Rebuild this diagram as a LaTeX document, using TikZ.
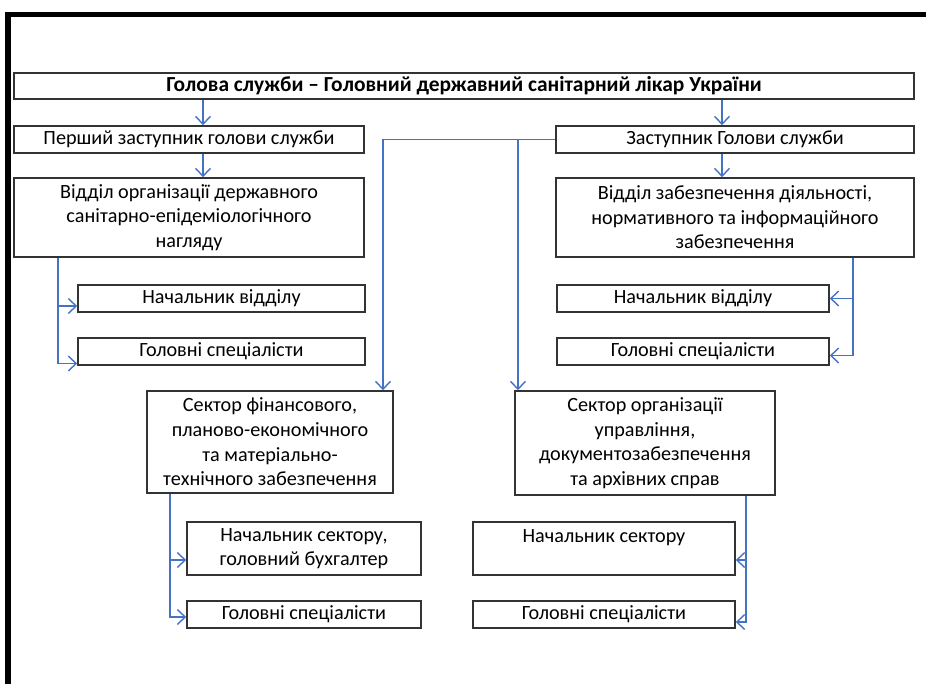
\documentclass[tikz,border=0pt]{standalone}
\usepackage{fontspec}
\setmainfont{Carlito}
\usetikzlibrary{arrows.meta,calc}
\definecolor{linkblue}{RGB}{68,114,196}

\begin{document}
\begin{tikzpicture}[
    x=0.02cm, y=-0.02cm,
    box/.style={draw=black!80,line width=0.9pt,inner sep=0,align=center,
      font=\fontsize{11.5}{14}\selectfont},
    wh/.style 2 args={minimum width=#1*0.02cm,minimum height=#2*0.02cm},
    link/.style={draw=linkblue,line width=0.8pt},
    arr/.style={link,-{Straight Barb[length=4.5pt,width=8.5pt]}}
    ]
    \useasboundingbox (0,0) rectangle (926,684);

    % frame
    \draw[line width=0.1cm] (5,14.5) -- (926,14.5);
    \draw[line width=0.12cm] (8,12) -- (8,684);

    % head of service
    \node[box,wh={900}{26},font=\fontsize{12.2}{14}\selectfont\bfseries] (T) at (464,86) {Голова служби – Головний державний санітарний лікар України};

    % deputies
    \node[box,wh={350}{27}] (D1) at (189,139.5) {Перший заступник голови служби};
    \node[box,wh={358}{27}] (D2) at (735,139.5) {Заступник Голови служби};

    % departments
    \node[box,wh={350}{79}] (O1) at (189,217.5) {Відділ організації державного\\санітарно-епідеміологічного\\нагляду};
    \node[box,wh={358}{79}] (O2) at (735,217.5) {Відділ забезпечення діяльності,\\нормативного та інформаційного\\забезпечення};

    % department staff
    \node[box,wh={287}{27}] (H1) at (221.5,298.5) {Начальник відділу};
    \node[box,wh={287}{27}] (S1) at (221.5,351.5) {Головні спеціалісти};
    \node[box,wh={272}{27}] (H2) at (693,298.5) {Начальник відділу};
    \node[box,wh={272}{27}] (S2) at (693,351.5) {Головні спеціалісти};

    % sectors
    \node[box,wh={246}{102}] (F) at (270,442) {Сектор фінансового,\\планово-економічного\\та матеріально-\\технічного забезпечення};
    \node[box,wh={260}{104}] (G) at (645,443) {Сектор організації\\управління,\\документозабезпечення\\та архівних справ};

    % sector staff
    \node[box,wh={234}{53}] (H3) at (304,548.5) {Начальник сектору,\\головний бухгалтер};
    \node[box,wh={234}{27}] (S3) at (304,614.5) {Головні спеціалісти};
    \node[box,wh={262}{53}] (H4) at (604,548.5) {Начальник сектору\\~};
    \node[box,wh={262}{27}] (S4) at (604,614.5) {Головні спеціалісти};

    % connector columns
    \coordinate (xl) at (203,0);
    \coordinate (xr) at (722,0);
    \coordinate (xf) at (383,0);
    \coordinate (xg) at (518,0);
    \coordinate (xa) at (58,0);
    \coordinate (xb) at (853,0);
    \coordinate (xc) at (170,0);
    \coordinate (xd) at (746,0);

    % vertical chain
    \draw[arr] (T.south -| xl) -- (D1.north -| xl);
    \draw[arr] (D1.south -| xl) -- (O1.north -| xl);
    \draw[arr] (T.south -| xr) -- (D2.north -| xr);
    \draw[arr] (D2.south -| xr) -- (O2.north -| xr);

    % deputy to sectors
    \draw[arr] (D2.west) -| (F.north -| xf);
    \draw[arr] (D2.west -| xg) -- (G.north -| xg);

    % staff links
    \draw[arr] (O1.south -| xa) |- ($(H1.west)+(0,7.5)$);
    \draw[arr] (O1.south -| xa) |- ($(S1.west)+(0,12)$);
    \draw[arr] (O2.south -| xb) |- (H2.east);
    \draw[arr] (O2.south -| xb) |- ($(S2.east)+(0,4)$);
    \draw[arr] (F.south -| xc) |- ($(H3.west)+(0,11.5)$);
    \draw[arr] (F.south -| xc) |- ($(S3.west)+(0,2.5)$);
    \draw[arr] (G.south -| xd) |- ($(H4.east)+(0,11.5)$);
    \draw[arr] (G.south -| xd) |- ($(S4.east)+(0,7.5)$);
  \end{tikzpicture}
\end{document}
